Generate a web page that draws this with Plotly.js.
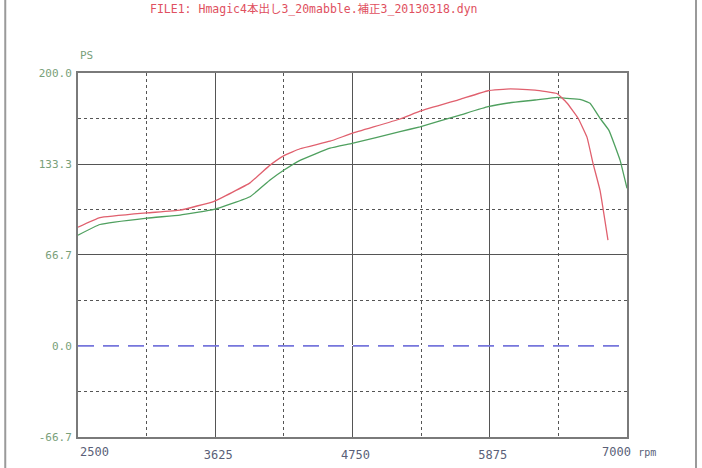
<!DOCTYPE html>
<html>
<head>
<meta charset="utf-8">
<script src="https://cdn.plot.ly/plotly-3.0.1.min.js"></script>
<style>html,body{margin:0;padding:0;background:#fff;}#chart{width:702px;height:468px;}</style>
</head>
<body>
<div id="chart"></div>
<script>
// Data
const redRpm   = [2500, 2680, 3066, 3336, 3615, 3910, 4074, 4189, 4320, 4566, 4746, 5139, 5303, 5631, 5861, 6041, 6246, 6426, 6508, 6598, 6672, 6721, 6779, 6844];
const redPs    = [87.0, 94.0, 97.5, 99.5, 106.0, 119.5, 132.5, 139.5, 144.5, 150.0, 155.8, 166.3, 172.0, 180.7, 187.0, 188.3, 187.5, 185.0, 178.0, 167.0, 153.0, 134.0, 114.0, 77.6];
const greenRpm = [2500, 2680, 3066, 3336, 3615, 3910, 4074, 4189, 4320, 4566, 4746, 5139, 5303, 5631, 5861, 6041, 6246, 6426, 6508, 6615, 6697, 6779, 6852, 6943, 7000];
const greenPs  = [81.2, 89.0, 93.7, 95.9, 100.0, 109.3, 121.6, 128.9, 136.0, 145.0, 148.5, 157.0, 160.6, 169.2, 175.3, 178.2, 180.2, 182.2, 181.4, 180.7, 177.8, 166.8, 158.0, 136.2, 115.5];
const baseRpm  = [2500, 7000];
const basePs   = [0, 0];
const xTickVals = [2500, 3625, 4750, 5875, 7000];
const xTickText = ['2500', '3625', '4750', '5875', '7000'];
const yTickVals = [-66.7, 0, 66.7, 133.3, 200];
const yTickText = ['-66.7', '0.0', '66.7', '133.3', '200.0'];
const titleText = 'FILE1: Hmagic4本出し3_20mabble.補正3_20130318.dyn';

const mono = '"DejaVu Sans Mono", "Noto Sans CJK JP", monospace';

const traces = [
  {x: baseRpm, y: basePs, mode: 'lines', line: {color: '#7676dc', width: 1.8, dash: '16px,9px'}, hoverinfo: 'skip'},
  {x: greenRpm, y: greenPs, mode: 'lines', line: {color: '#4fa05f', width: 1.3, shape: 'spline', smoothing: 0.3}},
  {x: redRpm, y: redPs, mode: 'lines', line: {color: '#e0606e', width: 1.3, shape: 'spline', smoothing: 0.3}}
];

const layout = {
  width: 702, height: 468,
  margin: {l: 78, r: 75, t: 73, b: 31},
  paper_bgcolor: '#ffffff', plot_bgcolor: '#ffffff',
  showlegend: false,
  xaxis: {
    range: [2500, 7000], tickmode: 'array',
    tickvals: xTickVals.slice(1, 4), ticktext: xTickText.slice(1, 4),
    showgrid: true, gridcolor: '#555', gridwidth: 1,
    minor: {tickmode: 'array', tickvals: [3062.5, 4187.5, 5312.5, 6437.5], showgrid: true, griddash: 'dot', gridcolor: '#555', gridwidth: 1},
    showline: true, mirror: true, linecolor: '#7a7a7a', linewidth: 2,
    ticks: '', zeroline: false,
    ticklabelstandoff: 6, ticklabelshift: 3,
    tickfont: {family: mono, size: 12, color: '#5a5f78'}
  },
  yaxis: {
    range: [-66.7, 200], tickmode: 'array',
    tickvals: yTickVals, ticktext: yTickText,
    showgrid: true, gridcolor: '#555', gridwidth: 1,
    minor: {tickmode: 'array', tickvals: [-33.35, 33.35, 100, 166.65], showgrid: true, griddash: 'dot', gridcolor: '#555', gridwidth: 1},
    showline: true, mirror: true, linecolor: '#7a7a7a', linewidth: 2,
    ticks: '', zeroline: true, zerolinecolor: '#ffffff', zerolinewidth: 1,
    ticklabelstandoff: 2,
    tickfont: {family: mono, size: 11, color: '#79a07a'}
  },
  annotations: [
    {text: titleText, xref: 'paper', yref: 'paper', x: 0.429, y: 1.2, xanchor: 'center', yanchor: 'top', showarrow: false,
     font: {family: mono, size: 11.5, color: '#e05060'}},
    {text: 'PS', xref: 'paper', yref: 'paper', x: 0, y: 1, yshift: 9, xanchor: 'left', yanchor: 'bottom', showarrow: false,
     font: {family: mono, size: 11, color: '#79a07a'}},
    {text: xTickText[0], xref: 'x', yref: 'paper', x: xTickVals[0], y: 0, yshift: -6, xanchor: 'left', yanchor: 'top', showarrow: false,
     font: {family: mono, size: 12, color: '#5a5f78'}},
    {text: xTickText[4] + ' <span style="font-size:10px">rpm</span>', xref: 'x', yref: 'paper', x: xTickVals[4], y: 0, yshift: -6, xshift: -27, xanchor: 'left', yanchor: 'top', showarrow: false,
     font: {family: mono, size: 12, color: '#5a5f78'}}
  ],
  shapes: [
    {type: 'line', xref: 'paper', yref: 'paper', x0: -0.1325, x1: -0.1325, y0: -0.2, y1: 1.3, line: {color: '#9a9a9a', width: 2}},
    {type: 'line', xref: 'paper', yref: 'paper', x0: 1.1257, x1: 1.1257, y0: -0.2, y1: 1.3, line: {color: '#9a9a9a', width: 2}}
  ]
};

Plotly.newPlot('chart', traces, layout, {staticPlot: true, displayModeBar: false});
</script>
</body>
</html>
